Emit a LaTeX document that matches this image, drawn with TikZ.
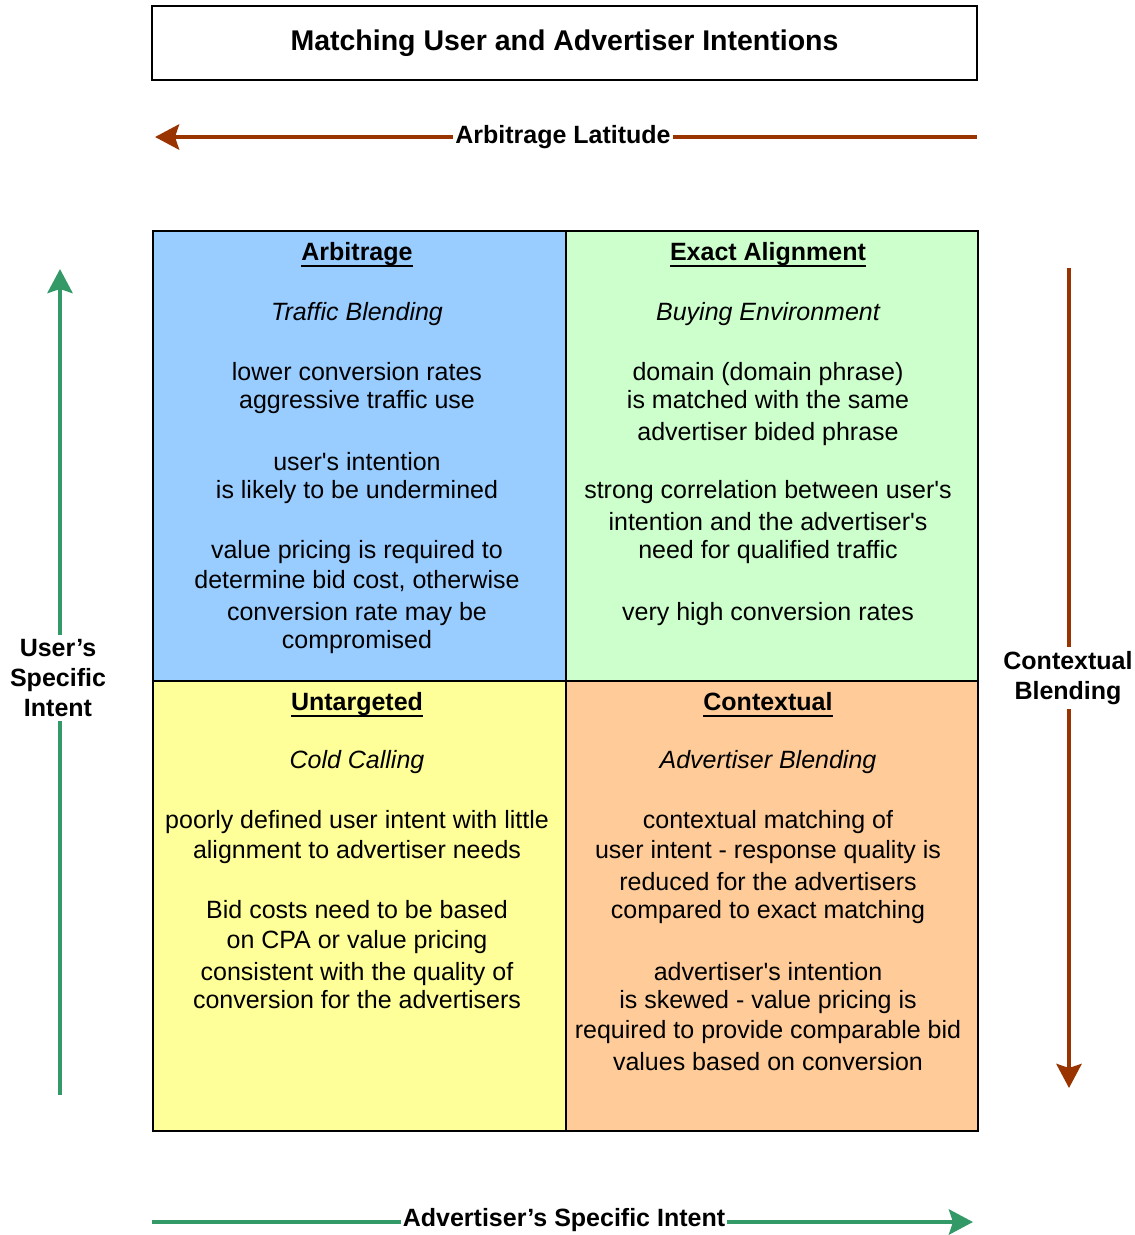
\documentclass[tikz,border=0pt]{standalone}
\usepackage{fontspec}
\setmainfont{Liberation Sans}
\usetikzlibrary{arrows.meta}
\definecolor{brn}{HTML}{993300}
\definecolor{grn}{HTML}{339966}
\definecolor{qblue}{HTML}{99CCFF}
\definecolor{qgreen}{HTML}{CCFFCC}
\definecolor{qyellow}{HTML}{FFFF99}
\definecolor{qorange}{HTML}{FFCC99}
\newcommand{\sq}{\textquotesingle}
\begin{document}
\begin{tikzpicture}[x=1pt,y=-1pt,
  quad/.style={draw=black,line width=2pt,minimum width=412.5pt,minimum height=450pt,inner sep=0pt,anchor=north west},
  txt/.style={anchor=base,inner sep=0pt,font=\fontsize{25}{29}\selectfont},
  itx/.style={txt,font=\fontsize{25}{29}\selectfont\itshape},
  hd/.style={txt,font=\fontsize{25}{29}\selectfont\bfseries},
  ul/.style={line width=2pt},
  lab/.style={font=\fontsize{25}{30}\selectfont\bfseries,align=center,inner xsep=2pt,inner ysep=4pt},
  barr/.style={draw=brn,line width=4.5pt},
  garr/.style={draw=grn,line width=4.5pt},
  tipb/.style={-{Stealth[length=24pt,width=25pt,inset=4pt]}}
]
\useasboundingbox (0,0) rectangle (1135,1235);
\fill[white] (0,0) rectangle (1135,1235);

% title
\node[draw=black,line width=1.5pt,minimum width=825pt,minimum height=74pt,inner sep=0pt,
  font=\fontsize{28.5}{32}\selectfont\bfseries] (title) at (564.5,43) {Matching User and Advertiser Intentions};

% quadrants
\node[quad,fill=qblue] (tl) at (152,230) {};
\node[quad,fill=qgreen] (tr) at (564.5,230) {};
\node[quad,fill=qyellow] (bl) at (152,680) {};
\node[quad,fill=qorange] (br) at (564.5,680) {};

% top-left
\node[hd] (h1) at (357,260) {Arbitrage};
\draw[ul] ([yshift=-6pt]h1.base west) -- ([yshift=-6pt]h1.base east);
\node[itx] (a1) at (357,320) {Traffic Blending};
\node[txt] (a2) at (357,380) {lower conversion rates};
\node[txt] (a3) at (357,408) {aggressive traffic use};
\node[txt] (a4) at (357,470) {user\sq s intention};
\node[txt] (a5) at (357,498) {is likely to be undermined};
\node[txt] (a6) at (357,558) {value pricing is required to};
\node[txt] (a7) at (357,588) {determine bid cost, otherwise};
\node[txt] (a8) at (357,620) {conversion rate may be};
\node[txt] (a9) at (357,648) {compromised};

% top-right
\node[hd] (h2) at (768,260) {Exact Alignment};
\draw[ul] ([yshift=-6pt]h2.base west) -- ([yshift=-6pt]h2.base east);
\node[itx] (b1) at (768,320) {Buying Environment};
\node[txt] (b2) at (768,380) {domain (domain phrase)};
\node[txt] (b3) at (768,408) {is matched with the same};
\node[txt] (b4) at (768,440) {advertiser bided phrase};
\node[txt] (b5) at (768,498) {strong correlation between user\sq s};
\node[txt] (b6) at (768,530) {intention and the advertiser\sq s};
\node[txt] (b7) at (768,558) {need for qualified traffic};
\node[txt] (b8) at (768,620) {very high conversion rates};

% bottom-left
\node[hd] (h3) at (357,710) {Untargeted};
\draw[ul] ([yshift=-6pt]h3.base west) -- ([yshift=-6pt]h3.base east);
\node[itx] (c1) at (357,768) {Cold Calling};
\node[txt] (c2) at (357,828) {poorly defined user intent with little};
\node[txt] (c3) at (357,858) {alignment to advertiser needs};
\node[txt] (c4) at (357,918) {Bid costs need to be based};
\node[txt] (c5) at (357,948) {on CPA or value pricing};
\node[txt] (c6) at (357,980) {consistent with the quality of};
\node[txt] (c7) at (357,1008) {conversion for the advertisers};

% bottom-right
\node[hd] (h4) at (768,710) {Contextual};
\draw[ul] ([yshift=-6pt]h4.base west) -- ([yshift=-6pt]h4.base east);
\node[itx] (d1) at (768,768) {Advertiser Blending};
\node[txt] (d2) at (768,828) {contextual matching of};
\node[txt] (d3) at (768,858) {user intent -\ response quality is};
\node[txt] (d4) at (768,890) {reduced for the advertisers};
\node[txt] (d5) at (768,918) {compared to exact matching};
\node[txt] (d6) at (768,980) {advertiser\sq s intention};
\node[txt] (d7) at (768,1008) {is skewed -\ value pricing is};
\node[txt] (d8) at (768,1038) {required to provide comparable bid};
\node[txt] (d9) at (768,1070) {values based on conversion};

% arbitrage latitude arrow
\coordinate (latR) at (977,137);
\coordinate (latL) at (155,137);
\node[lab] (lat) at (563,137) {Arbitrage Latitude};
\draw[barr] (latR) -- (latR |- lat.east) -- (lat.east);
\draw[barr,tipb] (lat.west) -- (latL);

% user's specific intent arrow
\coordinate (usB) at (60,1095);
\coordinate (usT) at (60,269);
\node[lab] (us) at (58,678) {User’s\\Specific\\Intent};
\draw[garr] (usB) -- (usB |- us.south);
\draw[garr,tipb] (usT |- us.north) -- (usT);

% contextual blending arrow
\coordinate (cbT) at (1069,268);
\coordinate (cbB) at (1069,1088);
\node[lab] (cb) at (1068,678) {Contextual\\Blending};
\draw[barr] (cbT) -- (cbT |- cb.north);
\draw[barr,tipb] (cbB |- cb.south) -- (cbB);

% advertiser's specific intent arrow
\coordinate (adL) at (152,1222);
\coordinate (adR) at (973,1222);
\node[lab] (ad) at (564,1220) {Advertiser’s Specific Intent};
\draw[garr] (adL) -- (adL -| ad.west);
\draw[garr,tipb] (adR -| ad.east) -- (adR);
\end{tikzpicture}
\end{document}
